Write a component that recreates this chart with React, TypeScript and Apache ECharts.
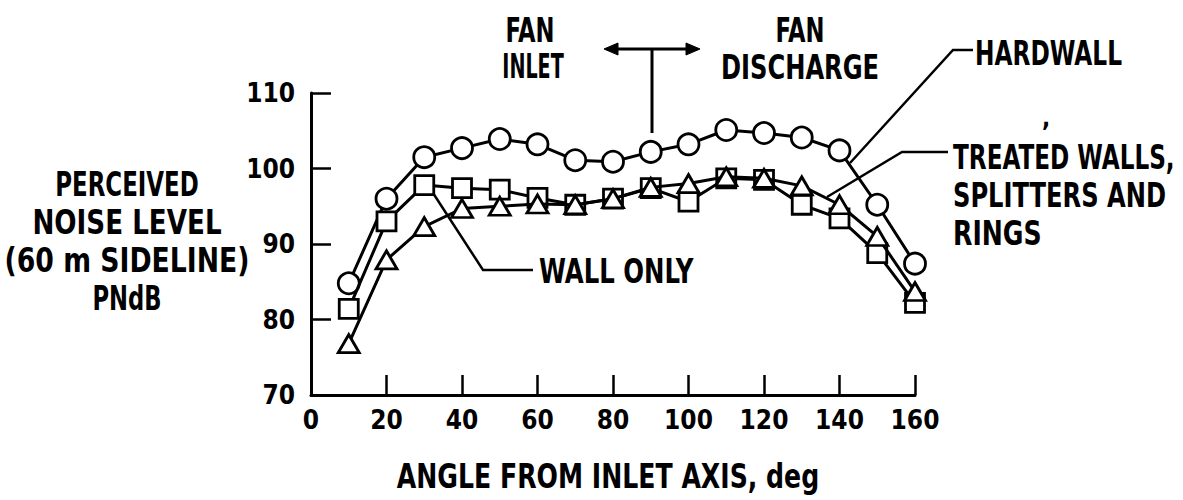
import React, { useEffect, useRef } from "react";
import * as echarts from "echarts";

// ---- data ----
const angles = [10, 20, 30, 40, 50, 60, 70, 80, 90, 100, 110, 120, 130, 140, 150, 160];
const hardwall = [84.8, 96.0, 101.5, 102.7, 103.9, 103.2, 101.1, 100.9, 102.2, 103.2, 105.1, 104.7, 104.1, 102.4, 95.2, 87.4];
const wallOnly = [81.4, 93.0, 97.8, 97.4, 97.2, 96.1, 95.2, 96.0, 97.4, 95.6, 98.7, 98.5, 95.2, 93.4, 88.8, 82.2];
const treated = [76.8, 87.9, 92.3, 94.7, 95.0, 95.3, 95.2, 96.0, 97.5, 98.0, 98.9, 98.7, 97.7, 95.2, 91.0, 83.7];

const xMin = 0, xMax = 160, xStep = 20;
const yMin = 70, yMax = 110, yStep = 10;

const yTitleLines = ["PERCEIVED", "NOISE LEVEL", "(60 m SIDELINE)", "PNdB"];
const xTitle = "ANGLE FROM INLET AXIS, deg";
const inletLines = ["FAN", "INLET"];
const dischargeLines = ["FAN", "DISCHARGE"];
const hardwallLabel = "HARDWALL";
const treatedLines = ["TREATED WALLS,", "SPLITTERS AND", "RINGS"];
const wallOnlyLabel = "WALL ONLY";

const FONT = "'DejaVu Sans Condensed', 'Liberation Sans Narrow', sans-serif";
const INK = "#000";

function txt(text: string, x: number, y: number, align = "center", sx = 1, size = 28, sy = 1.2) {
  return {
    type: "text",
    silent: true,
    x,
    y,
    scaleX: sx,
    scaleY: sy,
    style: {
      text,
      x: 0,
      y: 0,
      fill: INK,
      font: `bold ${size}px ${FONT}`,
      textAlign: align,
      textVerticalAlign: "middle",
      align,
      verticalAlign: "middle",
    },
  };
}

function poly(points: number[][], w = 2.5) {
  return {
    type: "polyline",
    silent: true,
    shape: { points },
    style: { stroke: INK, lineWidth: w, fill: null },
  };
}

function head(points: number[][]) {
  return { type: "polygon", silent: true, shape: { points }, style: { fill: INK, stroke: INK, lineWidth: 1 } };
}

export default function App() {
  const ref = useRef<HTMLDivElement>(null);

  useEffect(() => {
    document.body.style.margin = "0";
    const chart = echarts.init(ref.current!, undefined, { renderer: "svg" });

    const mk = (data: number[], symbol: string, size: any, z: number) => ({
      type: "line",
      data: angles.map((a, i) => [a, data[i]]),
      symbol,
      symbolSize: size,
      showSymbol: true,
      z,
      lineStyle: { color: INK, width: 3 },
      itemStyle: { color: "#fff", borderColor: INK, borderWidth: 2.8 },
      emphasis: { disabled: true },
    });

    const axisCommon = {
      axisLine: { show: true, lineStyle: { color: INK, width: 3 } },
      axisTick: { show: true, inside: true, length: 20, lineStyle: { color: INK, width: 2.5 } },
      splitLine: { show: false },
      axisLabel: { color: INK, fontSize: 26, fontWeight: "bold", fontFamily: FONT },
    };

    const graphics: any[] = [];
    // y axis title
    const yl = [184, 222, 260, 298];
    const ysx = [0.91, 1.04, 1.06, 0.9];
    yTitleLines.forEach((t, i) => graphics.push(txt(t, 127, yl[i], "center", ysx[i])));
    // x axis title
    graphics.push(txt(xTitle, 608, 476, "center", 1.0));
    // top annotation
    graphics.push(txt(inletLines[0], 530, 30, "center", 0.9));
    graphics.push(txt(inletLines[1], 533, 67, "center", 0.76));
    graphics.push(txt(dischargeLines[0], 800, 30, "center", 0.9));
    graphics.push(txt(dischargeLines[1], 800, 67, "center", 0.96));
    graphics.push(poly([[612, 49], [692, 49]], 3));
    graphics.push(poly([[652, 49], [652, 133]], 3));
    graphics.push(head([[604, 49], [618, 43], [618, 55]]));
    graphics.push(head([[700, 49], [686, 43], [686, 55]]));
    // HARDWALL leader
    graphics.push(poly([[850, 163], [953, 50], [973, 50]]));
    graphics.push(txt(hardwallLabel, 975, 53, "left", 0.925));
    // stray comma mark
    graphics.push(txt(",", 1046, 118, "center", 1, 24, 1));
    // TREATED leader
    graphics.push(poly([[827, 197], [902, 152], [948, 152]]));
    const tl = [157, 195, 233];
    const tsx = [0.92, 0.96, 1.0];
    treatedLines.forEach((t, i) => graphics.push(txt(t, 953, tl[i], "left", tsx[i])));
    // WALL ONLY leader
    graphics.push(poly([[433, 193], [483, 270], [533, 270]]));
    graphics.push(txt(wallOnlyLabel, 539, 271, "left", 0.97));

    chart.setOption({
      animation: false,
      backgroundColor: "#fff",
      grid: { left: 311, top: 93, width: 604, height: 302, containLabel: false },
      xAxis: {
        type: "value",
        min: xMin,
        max: xMax,
        interval: xStep,
        ...axisCommon,
        axisLabel: { ...axisCommon.axisLabel, margin: 12 },
      },
      yAxis: {
        type: "value",
        min: yMin,
        max: yMax,
        interval: yStep,
        ...axisCommon,
        axisLabel: { ...axisCommon.axisLabel, margin: 16 },
      },
      series: [
        mk(hardwall, "circle", 21, 3),
        mk(wallOnly, "rect", 19, 4),
        mk(treated, "triangle", [21, 18], 5),
      ],
      graphic: graphics,
    });

    return () => chart.dispose();
  }, []);

  return <div ref={ref} style={{ width: 1183, height: 500 }} />;
}
